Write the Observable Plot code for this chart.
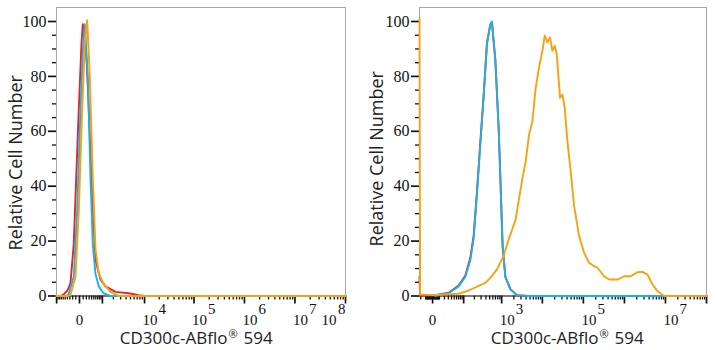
<!DOCTYPE html>
<html><head><meta charset="utf-8">
<script src="https://cdn.jsdelivr.net/npm/d3@7"></script>
<script src="https://cdn.jsdelivr.net/npm/@observablehq/plot@0.6"></script>
<style>
body{margin:0;background:#fff;}
#wrap{display:flex;width:717px;height:350px;overflow:hidden;}
#wrap svg{display:block;flex:none;}
</style></head><body><div id="wrap"></div>
<script>
// ---------- data (fluorescence intensity vs relative cell number) ----------
const leftRedX = [-1007, -749, -585, -397, -276, -162, -88, -18, 52, 88, 155, 222, 287, 426, 585, 875, 1236, 2264, 4532, 7470, 10490, 1e8];
const leftRedY = [0, 0, 0.5, 2, 4.7, 19, 43, 68, 92, 99, 95, 83, 68, 37, 13, 6, 3.5, 1.5, 1, 0.3, 0, 0];
const leftCyanX = [-1007, -439, -355, -162, -60, 26, 100, 148, 250, 355, 453, 585, 767, 1080, 1692, 1e8];
const leftCyanY = [0, 0, 0.5, 7, 31, 68, 92, 99, 80, 43, 19, 8, 3.5, 1, 0, 0];
const leftOrangeX = [-1007, -355, -276, -109, -18, 71, 148, 228, 326, 453, 585, 767, 1080, 1692, 2676, 1e8];
const leftOrangeY = [0, 0, 0.5, 7, 31, 68, 92, 100.5, 80, 43, 17, 8, 4.5, 1.5, 0, 0];

const rightRedX = [-23, -21.5, 0, 3.5, 30.8, 70, 112, 155, 191, 234, 287, 351, 426, 520, 571, 695, 842, 928, 1058, 1236, 1643, 2391, 4378, 1e8];
const rightRedY = [7, 0.3, 0.2, 0.3, 1.2, 3.8, 7.5, 14, 22, 38, 56, 73, 92, 99, 99.5, 86, 61, 43, 18, 7, 2.5, 0.3, 0, 0];
const rightCyanX = [3.5, 30.8, 70, 112, 155, 191, 234, 287, 351, 426, 520, 571, 695, 842, 928, 1058, 1236, 1643, 2391, 4378, 1e8];
const rightCyanY = [0, 1, 3.5, 7, 13, 21, 37, 55, 73, 92, 99, 100, 86, 61, 43, 18, 7, 2.5, 0.3, 0, 0];
const rightOrangeX = [-23, -21.5, -15, 0, 20, 70, 139, 259, 387, 520, 763, 1122, 1492, 1842, 2220, 2680, 3248, 3909, 4710, 5711, 6871, 8283, 10032, 11416, 13295, 15372, 17613, 20038, 22387, 24105, 26988, 30846, 35171, 40852, 49226, 59190, 78376, 103817, 137482, 182087, 220437, 319378, 422980, 678146, 982492, 1429983, 2086080, 2762700, 3658760, 4845470, 6402300, 9275450, 1e8];
const rightOrangeY = [101, 0.5, 0.5, 0.3, 0.6, 0.8, 2, 3.7, 4.8, 6.6, 9.7, 14.7, 20.7, 24.4, 28, 35.4, 42.8, 48.9, 58.7, 63.6, 75.8, 83.2, 89.3, 94.9, 92.4, 94.2, 89.3, 91.2, 88.1, 82, 72.2, 73.4, 68.5, 56.3, 45.2, 33, 22, 15.8, 12.1, 10.9, 10.3, 7.2, 6, 6, 7.2, 7.2, 8.7, 8.8, 7.8, 4.2, 1.7, 0, 0];

// ---------- tick labels ----------
const yTickValues = [0, 20, 40, 60, 80, 100];
const leftTickValues = [0, 1e4, 1e5, 1e6, 1e7, 1e8];
const leftTickExps = ["", "4", "5", "6", "7", "8"];
const rightTickValues = [0, 1e3, 1e5, 1e7];
const rightTickExps = ["", "3", "5", "7"];
const xTitleMain = "CD300c-ABflo";
const xTitleMark = "®";
const xTitleEnd = "594";
const yTitle = "Relative Cell Number";
const colors = {red: "#e8222a", cyan: "#1cb1e4", orange: "#f5a213"};

// ---------- helpers ----------
const SERIF = "'Liberation Serif', 'DejaVu Serif', serif";
const SANS = "'Open Sans', 'Noto Sans', sans-serif";
const zip = (xs, ys) => xs.map((x, i) => ({x, y: ys[i]}));
function axisTicks(domain, majorSet, kMin) {
  const major = [], minor = [];
  for (let k = kMin; k <= 8; k++) {
    for (let m = 1; m <= 9; m++) {
      const v = m * Math.pow(10, k);
      for (const s of [1, -1]) {
        const val = s * v;
        if (val < domain[0] || val > domain[1]) continue;
        (majorSet.includes(val) ? major : minor).push(val);
      }
    }
  }
  if (majorSet.includes(0)) major.push(0);
  return {major, minor};
}
const yMinor = [];
for (let v = 5; v < 105; v += 5) if (v % 20 !== 0) yMinor.push(v);

function panel(o) {
  const {major, minor} = axisTicks(o.domain, o.majors, o.kMin);
  const labels = o.tickValues.map((v, i) => ({v, e: o.tickExps[i]}));
  const zeroL = labels.filter(d => d.v === 0);
  const midL = labels.filter(d => d.v !== 0 && !(o.endLast && d === labels[labels.length - 1]));
  const endL = o.endLast ? [labels[labels.length - 1]] : [];
  const lab = {frameAnchor: "bottom", lineAnchor: "middle", fontFamily: SERIF, fontSize: 15, fill: "#111"};
  const tt = {frameAnchor: "bottom", lineAnchor: "middle", fontFamily: SANS, fontSize: 17, fill: "#222"};
  return Plot.plot({
    width: o.width, height: 350,
    marginLeft: o.ml, marginRight: o.mr, marginTop: 7, marginBottom: 54.5,
    x: {type: "symlog", constant: o.c, domain: o.domain, label: null},
    y: {domain: [0, 105.1], label: null},
    style: {fontFamily: SERIF, fontSize: "15px", color: "#111", background: "#fff", overflow: "visible"},
    marks: [
      Plot.frame({stroke: "#a6a6a6", strokeWidth: 1}),
      Plot.axisY({ticks: yTickValues, tickSize: 8, tickPadding: 2, tickFormat: d => String(d), fontFamily: SERIF, fontSize: 16, strokeWidth: 1.7, label: null}),
      Plot.axisY({ticks: yMinor, tickSize: 4, tickFormat: () => "", strokeWidth: 1.3, label: null}),
      Plot.axisX({ticks: major, tickSize: 8, tickFormat: () => "", strokeWidth: 1.7, label: null}),
      Plot.axisX({ticks: minor, tickSize: 4, tickFormat: () => "", strokeWidth: 1.3, label: null}),
      Plot.ruleY([0], {stroke: "#222", strokeWidth: 1}),
      Plot.line(o.red, {x: "x", y: "y", stroke: colors.red, strokeWidth: 1.9}),
      Plot.line(o.cyan, {x: "x", y: "y", stroke: colors.cyan, strokeWidth: 1.9}),
      Plot.line(o.orange, {x: "x", y: "y", stroke: colors.orange, strokeWidth: 1.9}),
      Plot.text(zeroL, {...lab, x: "v", text: () => "0", textAnchor: "middle", dy: 24}),
      Plot.text(midL, {...lab, x: "v", text: () => "10", textAnchor: "start", dx: -2, dy: 24}),
      Plot.text(midL, {...lab, x: "v", text: "e", textAnchor: "start", dx: 14, dy: 13}),
      Plot.text(endL, {...lab, x: "v", text: () => "10", textAnchor: "end", dx: -9, dy: 24}),
      Plot.text(endL, {...lab, x: "v", text: "e", textAnchor: "end", dx: 0, dy: 13}),
      Plot.text([xTitleMain], {...tt, text: d => d, textAnchor: "end", dx: o.xtDx + 30, dy: 43}),
      Plot.text([xTitleMark], {...tt, text: d => d, textAnchor: "start", dx: o.xtDx + 31, dy: 38, fontSize: 11}),
      Plot.text([xTitleEnd], {...tt, text: d => d, textAnchor: "start", dx: o.xtDx + 46, dy: 43}),
      Plot.text([yTitle], {text: d => d, frameAnchor: "left", textAnchor: "middle", lineAnchor: "middle", rotate: -90, dx: o.ytDx, dy: o.ytDy, fontFamily: SANS, fontSize: 18, fill: "#222"})
    ]
  });
}

const wrap = document.getElementById("wrap");
wrap.append(panel({
  width: 358, ml: 56, mr: 13, c: 544, domain: [-1007, 1e8], kMin: 2,
  majors: [-1000, 0, 1000, 1e4, 1e5, 1e6, 1e7, 1e8],
  red: zip(leftRedX, leftRedY), cyan: zip(leftCyanX, leftCyanY), orange: zip(leftOrangeX, leftOrangeY),
  tickValues: leftTickValues, tickExps: leftTickExps, endLast: true,
  xtDx: -3.5, ytDx: -40, ytDy: 11
}));
wrap.append(panel({
  width: 359, ml: 61, mr: 11, c: 21.2, domain: [-23, 1e8], kMin: 0,
  majors: [0, 100, 1e3, 1e4, 1e5, 1e6, 1e7, 1e8],
  red: zip(rightRedX, rightRedY), cyan: zip(rightCyanX, rightCyanY), orange: zip(rightOrangeX, rightOrangeY),
  tickValues: rightTickValues, tickExps: rightTickExps, endLast: false,
  xtDx: 5.5, ytDx: -42, ytDy: 7
}));
</script></body></html>
